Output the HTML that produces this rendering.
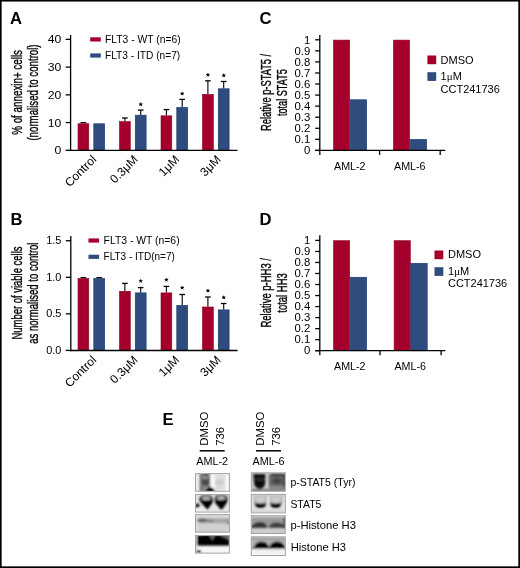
<!DOCTYPE html><html><head><meta charset="utf-8"><style>html,body{margin:0;padding:0;background:#fff;overflow:hidden;width:520px;height:568px}svg{display:block;will-change:transform}text{font-family:"Liberation Sans",sans-serif;fill:#000}</style></head><body>
<svg width="520" height="568" viewBox="0 0 520 568">
<rect x="0" y="0" width="520" height="568" fill="#fff"/>
<text x="10.00" y="24.30" font-size="16.6" font-weight="bold">A</text>
<line x1="83.40" y1="123.40" x2="83.40" y2="122.60" stroke="#000" stroke-width="1.1"/>
<line x1="80.60" y1="122.60" x2="86.20" y2="122.60" stroke="#000" stroke-width="1.3"/>
<rect x="78.00" y="123.70" width="10.80" height="26.60" fill="#a5002b" stroke="#8e0022" stroke-width="0.6"/>
<rect x="93.80" y="123.80" width="10.80" height="26.50" fill="#2f4c7f" stroke="#1c3a6e" stroke-width="0.7"/>
<line x1="124.90" y1="121.30" x2="124.90" y2="118.00" stroke="#000" stroke-width="1.1"/>
<line x1="122.10" y1="118.00" x2="127.70" y2="118.00" stroke="#000" stroke-width="1.3"/>
<rect x="119.50" y="121.60" width="10.80" height="28.70" fill="#a5002b" stroke="#8e0022" stroke-width="0.6"/>
<line x1="140.70" y1="114.90" x2="140.70" y2="110.10" stroke="#000" stroke-width="1.1"/>
<line x1="137.90" y1="110.10" x2="143.50" y2="110.10" stroke="#000" stroke-width="1.3"/>
<rect x="135.30" y="115.20" width="10.80" height="35.10" fill="#2f4c7f" stroke="#1c3a6e" stroke-width="0.7"/>
<line x1="166.40" y1="115.50" x2="166.40" y2="109.60" stroke="#000" stroke-width="1.1"/>
<line x1="163.60" y1="109.60" x2="169.20" y2="109.60" stroke="#000" stroke-width="1.3"/>
<rect x="161.00" y="115.80" width="10.80" height="34.50" fill="#a5002b" stroke="#8e0022" stroke-width="0.6"/>
<line x1="182.20" y1="107.20" x2="182.20" y2="99.40" stroke="#000" stroke-width="1.1"/>
<line x1="179.40" y1="99.40" x2="185.00" y2="99.40" stroke="#000" stroke-width="1.3"/>
<rect x="176.80" y="107.50" width="10.80" height="42.80" fill="#2f4c7f" stroke="#1c3a6e" stroke-width="0.7"/>
<line x1="207.90" y1="94.00" x2="207.90" y2="80.80" stroke="#000" stroke-width="1.1"/>
<line x1="205.10" y1="80.80" x2="210.70" y2="80.80" stroke="#000" stroke-width="1.3"/>
<rect x="202.50" y="94.30" width="10.80" height="56.00" fill="#a5002b" stroke="#8e0022" stroke-width="0.6"/>
<line x1="223.70" y1="88.50" x2="223.70" y2="81.50" stroke="#000" stroke-width="1.1"/>
<line x1="220.90" y1="81.50" x2="226.50" y2="81.50" stroke="#000" stroke-width="1.3"/>
<rect x="218.30" y="88.80" width="10.80" height="61.50" fill="#2f4c7f" stroke="#1c3a6e" stroke-width="0.7"/>
<line x1="70.60" y1="35.00" x2="70.60" y2="150.95" stroke="#000" stroke-width="1.3"/>
<line x1="69.95" y1="150.30" x2="237.50" y2="150.30" stroke="#000" stroke-width="1.3"/>
<line x1="65.60" y1="150.30" x2="70.60" y2="150.30" stroke="#000" stroke-width="1.3"/>
<text x="0" y="0" font-size="10.6" text-anchor="end" transform="translate(61.20,154.40) scale(1.15,1)">0</text>
<line x1="65.60" y1="122.57" x2="70.60" y2="122.57" stroke="#000" stroke-width="1.3"/>
<text x="0" y="0" font-size="10.6" text-anchor="end" transform="translate(61.20,126.67) scale(1.15,1)">10</text>
<line x1="65.60" y1="94.84" x2="70.60" y2="94.84" stroke="#000" stroke-width="1.3"/>
<text x="0" y="0" font-size="10.6" text-anchor="end" transform="translate(61.20,98.94) scale(1.15,1)">20</text>
<line x1="65.60" y1="67.11" x2="70.60" y2="67.11" stroke="#000" stroke-width="1.3"/>
<text x="0" y="0" font-size="10.6" text-anchor="end" transform="translate(61.20,71.21) scale(1.15,1)">30</text>
<line x1="65.60" y1="39.38" x2="70.60" y2="39.38" stroke="#000" stroke-width="1.3"/>
<text x="0" y="0" font-size="10.6" text-anchor="end" transform="translate(61.20,43.48) scale(1.15,1)">40</text>
<path d="M140.70,104.40L140.70,102.95M140.70,104.40L142.08,103.95M140.70,104.40L141.55,105.57M140.70,104.40L139.85,105.57M140.70,104.40L139.32,103.95" stroke="#000" stroke-width="1.0" stroke-linecap="round"/><circle cx="140.70" cy="104.40" r="0.9" fill="#000"/>
<path d="M182.20,93.70L182.20,92.25M182.20,93.70L183.58,93.25M182.20,93.70L183.05,94.87M182.20,93.70L181.35,94.87M182.20,93.70L180.82,93.25" stroke="#000" stroke-width="1.0" stroke-linecap="round"/><circle cx="182.20" cy="93.70" r="0.9" fill="#000"/>
<path d="M207.90,75.00L207.90,73.55M207.90,75.00L209.28,74.55M207.90,75.00L208.75,76.17M207.90,75.00L207.05,76.17M207.90,75.00L206.52,74.55" stroke="#000" stroke-width="1.0" stroke-linecap="round"/><circle cx="207.90" cy="75.00" r="0.9" fill="#000"/>
<path d="M223.70,75.50L223.70,74.05M223.70,75.50L225.08,75.05M223.70,75.50L224.55,76.67M223.70,75.50L222.85,76.67M223.70,75.50L222.32,75.05" stroke="#000" stroke-width="1.0" stroke-linecap="round"/><circle cx="223.70" cy="75.50" r="0.9" fill="#000"/>
<rect x="90.20" y="37.30" width="10.60" height="4.20" fill="#a5002b" />
<text x="105.00" y="42.70" font-size="10.2" textLength="75.60" lengthAdjust="spacingAndGlyphs">FLT3 - WT (n=6)</text>
<rect x="90.20" y="53.40" width="10.60" height="4.20" fill="#2f4c7f" />
<text x="105.00" y="59.20" font-size="10.2" textLength="75.20" lengthAdjust="spacingAndGlyphs">FLT3 - ITD (n=7)</text>
<text x="0" y="0" font-size="12.0" text-anchor="end" transform="translate(97.10,160.20) rotate(-45)">Control</text>
<text x="0" y="0" font-size="12.0" text-anchor="end" transform="translate(138.60,160.20) rotate(-45)">0.3μM</text>
<text x="0" y="0" font-size="12.0" text-anchor="end" transform="translate(180.10,160.20) rotate(-45)">1μM</text>
<text x="0" y="0" font-size="12.0" text-anchor="end" transform="translate(221.60,160.20) rotate(-45)">3μM</text>
<text x="0" y="0" font-size="13.8" textLength="84.80" lengthAdjust="spacingAndGlyphs" stroke="#000" stroke-width="0.35" transform="translate(22.00,134.80) rotate(-90)">% of annexin+ cells</text>
<text x="0" y="0" font-size="13.8" textLength="96.20" lengthAdjust="spacingAndGlyphs" stroke="#000" stroke-width="0.35" transform="translate(37.50,140.60) rotate(-90)">(normalised to control)</text>
<text x="10.60" y="225.00" font-size="16.6" font-weight="bold">B</text>
<line x1="83.40" y1="278.20" x2="83.40" y2="277.60" stroke="#000" stroke-width="1.1"/>
<line x1="80.60" y1="277.60" x2="86.20" y2="277.60" stroke="#000" stroke-width="1.3"/>
<rect x="78.00" y="278.50" width="10.80" height="72.00" fill="#a5002b" stroke="#8e0022" stroke-width="0.6"/>
<line x1="99.20" y1="278.20" x2="99.20" y2="277.60" stroke="#000" stroke-width="1.1"/>
<line x1="96.40" y1="277.60" x2="102.00" y2="277.60" stroke="#000" stroke-width="1.3"/>
<rect x="93.80" y="278.50" width="10.80" height="72.00" fill="#2f4c7f" stroke="#1c3a6e" stroke-width="0.7"/>
<line x1="124.90" y1="291.00" x2="124.90" y2="283.40" stroke="#000" stroke-width="1.1"/>
<line x1="122.10" y1="283.40" x2="127.70" y2="283.40" stroke="#000" stroke-width="1.3"/>
<rect x="119.50" y="291.30" width="10.80" height="59.20" fill="#a5002b" stroke="#8e0022" stroke-width="0.6"/>
<line x1="140.70" y1="292.60" x2="140.70" y2="287.60" stroke="#000" stroke-width="1.1"/>
<line x1="137.90" y1="287.60" x2="143.50" y2="287.60" stroke="#000" stroke-width="1.3"/>
<rect x="135.30" y="292.90" width="10.80" height="57.60" fill="#2f4c7f" stroke="#1c3a6e" stroke-width="0.7"/>
<line x1="166.40" y1="292.60" x2="166.40" y2="286.40" stroke="#000" stroke-width="1.1"/>
<line x1="163.60" y1="286.40" x2="169.20" y2="286.40" stroke="#000" stroke-width="1.3"/>
<rect x="161.00" y="292.90" width="10.80" height="57.60" fill="#a5002b" stroke="#8e0022" stroke-width="0.6"/>
<line x1="182.20" y1="305.10" x2="182.20" y2="294.50" stroke="#000" stroke-width="1.1"/>
<line x1="179.40" y1="294.50" x2="185.00" y2="294.50" stroke="#000" stroke-width="1.3"/>
<rect x="176.80" y="305.40" width="10.80" height="45.10" fill="#2f4c7f" stroke="#1c3a6e" stroke-width="0.7"/>
<line x1="207.90" y1="306.70" x2="207.90" y2="297.00" stroke="#000" stroke-width="1.1"/>
<line x1="205.10" y1="297.00" x2="210.70" y2="297.00" stroke="#000" stroke-width="1.3"/>
<rect x="202.50" y="307.00" width="10.80" height="43.50" fill="#a5002b" stroke="#8e0022" stroke-width="0.6"/>
<line x1="223.70" y1="309.60" x2="223.70" y2="303.50" stroke="#000" stroke-width="1.1"/>
<line x1="220.90" y1="303.50" x2="226.50" y2="303.50" stroke="#000" stroke-width="1.3"/>
<rect x="218.30" y="309.90" width="10.80" height="40.60" fill="#2f4c7f" stroke="#1c3a6e" stroke-width="0.7"/>
<line x1="70.80" y1="236.00" x2="70.80" y2="351.15" stroke="#000" stroke-width="1.3"/>
<line x1="70.15" y1="350.50" x2="237.50" y2="350.50" stroke="#000" stroke-width="1.3"/>
<line x1="65.80" y1="350.40" x2="70.80" y2="350.40" stroke="#000" stroke-width="1.3"/>
<text x="0" y="0" font-size="10.6" text-anchor="end" transform="translate(61.30,354.00) scale(1.03,1)">0.0</text>
<line x1="65.80" y1="313.85" x2="70.80" y2="313.85" stroke="#000" stroke-width="1.3"/>
<text x="0" y="0" font-size="10.6" text-anchor="end" transform="translate(61.30,317.45) scale(1.03,1)">0.5</text>
<line x1="65.80" y1="277.30" x2="70.80" y2="277.30" stroke="#000" stroke-width="1.3"/>
<text x="0" y="0" font-size="10.6" text-anchor="end" transform="translate(61.30,280.90) scale(1.03,1)">1.0</text>
<line x1="65.80" y1="240.75" x2="70.80" y2="240.75" stroke="#000" stroke-width="1.3"/>
<text x="0" y="0" font-size="10.6" text-anchor="end" transform="translate(61.30,244.35) scale(1.03,1)">1.5</text>
<path d="M140.70,281.10L140.70,279.65M140.70,281.10L142.08,280.65M140.70,281.10L141.55,282.27M140.70,281.10L139.85,282.27M140.70,281.10L139.32,280.65" stroke="#000" stroke-width="1.0" stroke-linecap="round"/><circle cx="140.70" cy="281.10" r="0.9" fill="#000"/>
<path d="M166.40,279.90L166.40,278.45M166.40,279.90L167.78,279.45M166.40,279.90L167.25,281.07M166.40,279.90L165.55,281.07M166.40,279.90L165.02,279.45" stroke="#000" stroke-width="1.0" stroke-linecap="round"/><circle cx="166.40" cy="279.90" r="0.9" fill="#000"/>
<path d="M182.20,287.80L182.20,286.35M182.20,287.80L183.58,287.35M182.20,287.80L183.05,288.97M182.20,287.80L181.35,288.97M182.20,287.80L180.82,287.35" stroke="#000" stroke-width="1.0" stroke-linecap="round"/><circle cx="182.20" cy="287.80" r="0.9" fill="#000"/>
<path d="M207.90,290.80L207.90,289.35M207.90,290.80L209.28,290.35M207.90,290.80L208.75,291.97M207.90,290.80L207.05,291.97M207.90,290.80L206.52,290.35" stroke="#000" stroke-width="1.0" stroke-linecap="round"/><circle cx="207.90" cy="290.80" r="0.9" fill="#000"/>
<path d="M223.70,297.50L223.70,296.05M223.70,297.50L225.08,297.05M223.70,297.50L224.55,298.67M223.70,297.50L222.85,298.67M223.70,297.50L222.32,297.05" stroke="#000" stroke-width="1.0" stroke-linecap="round"/><circle cx="223.70" cy="297.50" r="0.9" fill="#000"/>
<rect x="88.50" y="238.40" width="10.60" height="4.20" fill="#a5002b" />
<text x="103.60" y="243.50" font-size="10.2" textLength="76.00" lengthAdjust="spacingAndGlyphs">FLT3 - WT (n=6)</text>
<rect x="88.50" y="254.70" width="10.60" height="4.20" fill="#2f4c7f" />
<text x="103.60" y="259.50" font-size="10.2" textLength="71.20" lengthAdjust="spacingAndGlyphs">FLT3 - ITD(n=7)</text>
<text x="0" y="0" font-size="12.0" text-anchor="end" transform="translate(97.10,360.60) rotate(-45)">Control</text>
<text x="0" y="0" font-size="12.0" text-anchor="end" transform="translate(138.60,360.60) rotate(-45)">0.3μM</text>
<text x="0" y="0" font-size="12.0" text-anchor="end" transform="translate(180.10,360.60) rotate(-45)">1μM</text>
<text x="0" y="0" font-size="12.0" text-anchor="end" transform="translate(221.60,360.60) rotate(-45)">3μM</text>
<text x="0" y="0" font-size="13.8" textLength="93.00" lengthAdjust="spacingAndGlyphs" stroke="#000" stroke-width="0.35" transform="translate(22.20,339.50) rotate(-90)">Number of viable cells</text>
<text x="0" y="0" font-size="13.8" textLength="101.20" lengthAdjust="spacingAndGlyphs" stroke="#000" stroke-width="0.35" transform="translate(37.80,343.70) rotate(-90)">as normalised to control</text>
<text x="259.40" y="24.40" font-size="16.6" font-weight="bold">C</text>
<rect x="333.50" y="40.10" width="16.20" height="110.30" fill="#a5002b" stroke="#8e0022" stroke-width="0.6"/>
<rect x="350.30" y="99.80" width="16.30" height="50.60" fill="#2f4c7f" stroke="#1c3a6e" stroke-width="0.7"/>
<rect x="393.40" y="40.10" width="16.20" height="110.30" fill="#a5002b" stroke="#8e0022" stroke-width="0.6"/>
<rect x="410.20" y="139.50" width="16.30" height="10.90" fill="#2f4c7f" stroke="#1c3a6e" stroke-width="0.7"/>
<line x1="319.80" y1="35.10" x2="319.80" y2="154.90" stroke="#000" stroke-width="1.3"/>
<line x1="315.30" y1="150.40" x2="445.30" y2="150.40" stroke="#000" stroke-width="1.3"/>
<line x1="379.60" y1="150.40" x2="379.60" y2="154.90" stroke="#000" stroke-width="1.3"/>
<line x1="440.20" y1="150.40" x2="440.20" y2="154.90" stroke="#000" stroke-width="1.3"/>
<line x1="315.20" y1="150.40" x2="319.80" y2="150.40" stroke="#000" stroke-width="1.3"/>
<text x="0" y="0" font-size="10.6" text-anchor="end" transform="translate(310.20,154.10) scale(1.07,1)">0</text>
<line x1="315.20" y1="139.34" x2="319.80" y2="139.34" stroke="#000" stroke-width="1.3"/>
<text x="0" y="0" font-size="10.6" text-anchor="end" transform="translate(310.20,143.04) scale(1.07,1)">0.1</text>
<line x1="315.20" y1="128.28" x2="319.80" y2="128.28" stroke="#000" stroke-width="1.3"/>
<text x="0" y="0" font-size="10.6" text-anchor="end" transform="translate(310.20,131.98) scale(1.07,1)">0.2</text>
<line x1="315.20" y1="117.22" x2="319.80" y2="117.22" stroke="#000" stroke-width="1.3"/>
<text x="0" y="0" font-size="10.6" text-anchor="end" transform="translate(310.20,120.92) scale(1.07,1)">0.3</text>
<line x1="315.20" y1="106.16" x2="319.80" y2="106.16" stroke="#000" stroke-width="1.3"/>
<text x="0" y="0" font-size="10.6" text-anchor="end" transform="translate(310.20,109.86) scale(1.07,1)">0.4</text>
<line x1="315.20" y1="95.10" x2="319.80" y2="95.10" stroke="#000" stroke-width="1.3"/>
<text x="0" y="0" font-size="10.6" text-anchor="end" transform="translate(310.20,98.80) scale(1.07,1)">0.5</text>
<line x1="315.20" y1="84.04" x2="319.80" y2="84.04" stroke="#000" stroke-width="1.3"/>
<text x="0" y="0" font-size="10.6" text-anchor="end" transform="translate(310.20,87.74) scale(1.07,1)">0.6</text>
<line x1="315.20" y1="72.98" x2="319.80" y2="72.98" stroke="#000" stroke-width="1.3"/>
<text x="0" y="0" font-size="10.6" text-anchor="end" transform="translate(310.20,76.68) scale(1.07,1)">0.7</text>
<line x1="315.20" y1="61.92" x2="319.80" y2="61.92" stroke="#000" stroke-width="1.3"/>
<text x="0" y="0" font-size="10.6" text-anchor="end" transform="translate(310.20,65.62) scale(1.07,1)">0.8</text>
<line x1="315.20" y1="50.86" x2="319.80" y2="50.86" stroke="#000" stroke-width="1.3"/>
<text x="0" y="0" font-size="10.6" text-anchor="end" transform="translate(310.20,54.56) scale(1.07,1)">0.9</text>
<line x1="315.20" y1="39.80" x2="319.80" y2="39.80" stroke="#000" stroke-width="1.3"/>
<text x="0" y="0" font-size="10.6" text-anchor="end" transform="translate(310.20,43.50) scale(1.07,1)">1</text>
<text x="334.00" y="169.50" font-size="10.8" textLength="31.60" lengthAdjust="spacingAndGlyphs">AML-2</text>
<text x="394.00" y="169.50" font-size="10.8" textLength="31.60" lengthAdjust="spacingAndGlyphs">AML-6</text>
<rect x="427.40" y="55.50" width="8.80" height="8.70" fill="#a5002b" />
<rect x="427.40" y="72.20" width="8.80" height="8.70" fill="#2f4c7f" />
<text x="440.60" y="63.50" font-size="11.0" textLength="33.00" lengthAdjust="spacingAndGlyphs">DMSO</text>
<text x="440.60" y="80.10" font-size="11.0">1<tspan font-family="Liberation Serif">μ</tspan>M</text>
<text x="440.60" y="92.70" font-size="11.0" textLength="59.20" lengthAdjust="spacingAndGlyphs">CCT241736</text>
<text x="0" y="0" font-size="13.8" textLength="77.20" lengthAdjust="spacingAndGlyphs" stroke="#000" stroke-width="0.35" transform="translate(271.20,131.00) rotate(-90)">Relative p-STAT5 /</text>
<text x="0" y="0" font-size="13.8" textLength="46.90" lengthAdjust="spacingAndGlyphs" stroke="#000" stroke-width="0.35" transform="translate(286.90,116.10) rotate(-90)">total STAT5</text>
<text x="259.60" y="225.00" font-size="16.6" font-weight="bold">D</text>
<rect x="333.50" y="240.70" width="16.20" height="110.00" fill="#a5002b" stroke="#8e0022" stroke-width="0.6"/>
<rect x="350.30" y="277.30" width="16.30" height="73.40" fill="#2f4c7f" stroke="#1c3a6e" stroke-width="0.7"/>
<rect x="394.10" y="240.70" width="16.20" height="110.00" fill="#a5002b" stroke="#8e0022" stroke-width="0.6"/>
<rect x="410.90" y="263.30" width="16.30" height="87.40" fill="#2f4c7f" stroke="#1c3a6e" stroke-width="0.7"/>
<line x1="319.80" y1="235.20" x2="319.80" y2="355.20" stroke="#000" stroke-width="1.3"/>
<line x1="315.30" y1="350.70" x2="445.30" y2="350.70" stroke="#000" stroke-width="1.3"/>
<line x1="380.00" y1="350.70" x2="380.00" y2="355.20" stroke="#000" stroke-width="1.3"/>
<line x1="441.10" y1="350.70" x2="441.10" y2="355.20" stroke="#000" stroke-width="1.3"/>
<line x1="315.20" y1="350.70" x2="319.80" y2="350.70" stroke="#000" stroke-width="1.3"/>
<text x="0" y="0" font-size="10.6" text-anchor="end" transform="translate(310.20,354.40) scale(1.07,1)">0</text>
<line x1="315.20" y1="339.67" x2="319.80" y2="339.67" stroke="#000" stroke-width="1.3"/>
<text x="0" y="0" font-size="10.6" text-anchor="end" transform="translate(310.20,343.37) scale(1.07,1)">0.1</text>
<line x1="315.20" y1="328.64" x2="319.80" y2="328.64" stroke="#000" stroke-width="1.3"/>
<text x="0" y="0" font-size="10.6" text-anchor="end" transform="translate(310.20,332.34) scale(1.07,1)">0.2</text>
<line x1="315.20" y1="317.61" x2="319.80" y2="317.61" stroke="#000" stroke-width="1.3"/>
<text x="0" y="0" font-size="10.6" text-anchor="end" transform="translate(310.20,321.31) scale(1.07,1)">0.3</text>
<line x1="315.20" y1="306.58" x2="319.80" y2="306.58" stroke="#000" stroke-width="1.3"/>
<text x="0" y="0" font-size="10.6" text-anchor="end" transform="translate(310.20,310.28) scale(1.07,1)">0.4</text>
<line x1="315.20" y1="295.55" x2="319.80" y2="295.55" stroke="#000" stroke-width="1.3"/>
<text x="0" y="0" font-size="10.6" text-anchor="end" transform="translate(310.20,299.25) scale(1.07,1)">0.5</text>
<line x1="315.20" y1="284.52" x2="319.80" y2="284.52" stroke="#000" stroke-width="1.3"/>
<text x="0" y="0" font-size="10.6" text-anchor="end" transform="translate(310.20,288.22) scale(1.07,1)">0.6</text>
<line x1="315.20" y1="273.49" x2="319.80" y2="273.49" stroke="#000" stroke-width="1.3"/>
<text x="0" y="0" font-size="10.6" text-anchor="end" transform="translate(310.20,277.19) scale(1.07,1)">0.7</text>
<line x1="315.20" y1="262.46" x2="319.80" y2="262.46" stroke="#000" stroke-width="1.3"/>
<text x="0" y="0" font-size="10.6" text-anchor="end" transform="translate(310.20,266.16) scale(1.07,1)">0.8</text>
<line x1="315.20" y1="251.43" x2="319.80" y2="251.43" stroke="#000" stroke-width="1.3"/>
<text x="0" y="0" font-size="10.6" text-anchor="end" transform="translate(310.20,255.13) scale(1.07,1)">0.9</text>
<line x1="315.20" y1="240.40" x2="319.80" y2="240.40" stroke="#000" stroke-width="1.3"/>
<text x="0" y="0" font-size="10.6" text-anchor="end" transform="translate(310.20,244.10) scale(1.07,1)">1</text>
<text x="334.00" y="369.70" font-size="10.8" textLength="31.60" lengthAdjust="spacingAndGlyphs">AML-2</text>
<text x="394.40" y="369.70" font-size="10.8" textLength="31.60" lengthAdjust="spacingAndGlyphs">AML-6</text>
<rect x="434.50" y="250.50" width="8.80" height="8.70" fill="#a5002b" />
<rect x="434.50" y="267.20" width="8.80" height="8.70" fill="#2f4c7f" />
<text x="448.00" y="258.20" font-size="11.0" textLength="33.00" lengthAdjust="spacingAndGlyphs">DMSO</text>
<text x="448.00" y="274.60" font-size="11.0">1<tspan font-family="Liberation Serif">μ</tspan>M</text>
<text x="448.00" y="286.90" font-size="11.0" textLength="59.20" lengthAdjust="spacingAndGlyphs">CCT241736</text>
<text x="0" y="0" font-size="13.8" textLength="69.60" lengthAdjust="spacingAndGlyphs" stroke="#000" stroke-width="0.35" transform="translate(271.20,327.60) rotate(-90)">Relative p-HH3 /</text>
<text x="0" y="0" font-size="13.8" textLength="39.50" lengthAdjust="spacingAndGlyphs" stroke="#000" stroke-width="0.35" transform="translate(286.90,312.70) rotate(-90)">total HH3</text>
<text x="162.40" y="425.20" font-size="16.6" font-weight="bold">E</text>
<text x="0" y="0" font-size="11.4" textLength="34.20" lengthAdjust="spacingAndGlyphs" transform="translate(208.10,445.80) rotate(-90)">DMSO</text>
<text x="0" y="0" font-size="11.4" textLength="18.80" lengthAdjust="spacingAndGlyphs" transform="translate(223.80,445.80) rotate(-90)">736</text>
<line x1="199.70" y1="450.80" x2="224.70" y2="450.80" stroke="#000" stroke-width="1.5"/>
<text x="196.30" y="465.10" font-size="10.8" textLength="31.80" lengthAdjust="spacingAndGlyphs">AML-2</text>
<text x="0" y="0" font-size="11.4" textLength="34.20" lengthAdjust="spacingAndGlyphs" transform="translate(264.40,445.80) rotate(-90)">DMSO</text>
<text x="0" y="0" font-size="11.4" textLength="18.80" lengthAdjust="spacingAndGlyphs" transform="translate(280.10,445.80) rotate(-90)">736</text>
<line x1="256.00" y1="450.80" x2="281.00" y2="450.80" stroke="#000" stroke-width="1.5"/>
<text x="252.60" y="465.10" font-size="10.8" textLength="31.80" lengthAdjust="spacingAndGlyphs">AML-6</text>
<defs><filter id="bl" x="-20%" y="-20%" width="140%" height="140%"><feGaussianBlur stdDeviation="0.9"/></filter><filter id="bl2" x="-20%" y="-20%" width="140%" height="140%"><feGaussianBlur stdDeviation="0.8"/></filter><filter id="bl3" x="-20%" y="-20%" width="140%" height="140%"><feGaussianBlur stdDeviation="0.8"/></filter></defs>
<clipPath id="c1"><rect x="195.80" y="473.90" width="33.30" height="17.10"/></clipPath><g clip-path="url(#c1)">
<rect x="195.0" y="473.1" width="34.900000000000006" height="18.69999999999999" fill="#f0f0f0"/>
<g filter="url(#bl3)"><rect x="199.5" y="473.1" width="10.8" height="18.69999999999999" fill="#858585"/>
<rect x="200" y="473.1" width="3.2" height="18.69999999999999" fill="#777"/>
<rect x="204.5" y="473.1" width="2" height="18.69999999999999" fill="#9a9a9a"/>
<path d="M201.5,478.5 Q205,480.5 209.5,478 L209,484.5 Q205.5,487.5 202,484.5 Z" fill="#4a4a4a"/>
<ellipse cx="206" cy="474.3" rx="2.2" ry="1.4" fill="#000"/>
<rect x="214.8" y="474.5" width="10.6" height="16" fill="#dcdcdc"/>
<ellipse cx="219.5" cy="482.5" rx="4" ry="3" fill="#cbcbcb"/>
<rect x="225.6" y="474" width="3.5" height="17" fill="#fbfbfb"/>
<rect x="210.8" y="474" width="3.6" height="13" fill="#fafafa"/>
<path d="M203.8,492.3 Q206.5,488.6 209.8,486.6 Q213,488 216,492.3 Z" fill="#000"/></g>
</g>
<rect x="195.50" y="473.60" width="33.90" height="17.70" fill="none" stroke="#a2a2a2" stroke-width="1"/>
<clipPath id="c2"><rect x="195.80" y="494.80" width="33.30" height="17.00"/></clipPath><g clip-path="url(#c2)">
<rect x="195.0" y="494.0" width="34.900000000000006" height="18.600000000000023" fill="#e6e6e6"/>
<g filter="url(#bl3)"><ellipse cx="206.2" cy="498.2" rx="6.4" ry="3.4" fill="#2a2a2a"/>
<ellipse cx="206.2" cy="498.4" rx="4.0" ry="2.1" fill="#b4b4b4"/>
<ellipse cx="221.2" cy="498.0" rx="6.4" ry="3.4" fill="#2a2a2a"/>
<ellipse cx="221.2" cy="498.2" rx="4.0" ry="2.1" fill="#b4b4b4"/>
<path d="M199.0,497.8 Q203,500.8 206.5,500.6 Q210,500.2 213.0,499.3 L212.6,502.8 L208.0,509.0 L206.6,509.0 L200.0,501.2 Z" fill="#000"/>
<path d="M214.7,499.3 Q220,500.8 227.6,499.0 L227.0,502.4 L222.4,509.3 L220.6,509.3 L215.2,503 Z" fill="#000"/>
<circle cx="197.4" cy="505.6" r="2.1" fill="#000"/>
<rect x="196" y="509.5" width="8" height="2.5" fill="#f4f4f4"/></g>
</g>
<rect x="195.50" y="494.50" width="33.90" height="17.60" fill="none" stroke="#a2a2a2" stroke-width="1"/>
<clipPath id="c3"><rect x="195.80" y="514.90" width="33.30" height="17.00"/></clipPath><g clip-path="url(#c3)">
<rect x="195.0" y="514.1" width="34.900000000000006" height="18.600000000000023" fill="#d0d0d0"/>
<g filter="url(#bl)"><rect x="195" y="514" width="35" height="3.6" fill="#dadada"/>
<rect x="195.8" y="514" width="1.4" height="19" fill="#ececec"/>
<path d="M197,518.5 L229,518.3 L229,523.5 L197,522.3 Z" fill="#a5a5a5"/>
<ellipse cx="202.5" cy="520.3" rx="5.5" ry="2.0" fill="#666"/>
<ellipse cx="210" cy="521" rx="4.5" ry="1.6" fill="#888"/>
<rect x="227.8" y="520.5" width="1.3" height="3.5" fill="#444"/></g>
</g>
<rect x="195.50" y="514.60" width="33.90" height="17.60" fill="none" stroke="#a2a2a2" stroke-width="1"/>
<clipPath id="c4"><rect x="195.80" y="535.80" width="33.30" height="17.00"/></clipPath><g clip-path="url(#c4)">
<rect x="195.0" y="535.0" width="34.900000000000006" height="18.600000000000023" fill="#f6f6f6"/>
<g filter="url(#bl3)"><rect x="196.5" y="535" width="33" height="10.6" fill="#000"/>
<path d="M209.5,535.5 L212.3,540.5 L215,535.5 Z" fill="#6a6a6a"/>
<path d="M219,535.5 Q225,537.5 229.5,540 L229.5,535.5 Z" fill="#707070"/>
<path d="M197,535.5 Q201,537 205,535.5 Z" fill="#444"/>
<rect x="195.5" y="535" width="1.6" height="18" fill="#c4c4c4"/>
<ellipse cx="198.6" cy="551.8" rx="2.2" ry="1.5" fill="#000"/></g>
</g>
<rect x="195.50" y="535.50" width="33.90" height="17.60" fill="none" stroke="#a2a2a2" stroke-width="1"/>
<clipPath id="c5"><rect x="251.60" y="473.10" width="33.40" height="17.90"/></clipPath><g clip-path="url(#c5)">
<rect x="250.8" y="472.3" width="35.0" height="19.5" fill="#cfcfcf"/>
<g filter="url(#bl)"><path d="M253.3,474 L265.3,474 L265.1,484 Q264,488.8 260,488.8 Q255.5,488.8 254.2,484 Z" fill="#0a0a0a"/>
<ellipse cx="259.5" cy="479.3" rx="4.5" ry="1.5" fill="#333"/>
<rect x="268.8" y="474" width="16.5" height="14.5" fill="#666"/>
<rect x="271.5" y="473.8" width="12" height="1.8" fill="#111"/>
<rect x="283.6" y="474" width="1.8" height="15" fill="#1a1a1a"/>
<ellipse cx="277" cy="481" rx="4.5" ry="3" fill="#444"/>
<rect x="269" y="486" width="15" height="3.2" fill="#8a8a8a"/>
<rect x="251.5" y="489.6" width="34" height="1.3" fill="#333"/></g>
</g>
<rect x="251.30" y="472.80" width="34.00" height="18.50" fill="none" stroke="#a2a2a2" stroke-width="1"/>
<clipPath id="c6"><rect x="251.60" y="494.70" width="33.40" height="17.90"/></clipPath><g clip-path="url(#c6)">
<rect x="250.8" y="493.9" width="35.0" height="19.5" fill="#e4e4e4"/>
<g filter="url(#bl3)"><rect x="252" y="495.2" width="33" height="1.2" fill="#b5b5b5"/>
<rect x="254" y="496.4" width="12.3" height="8.5" rx="2" fill="#a0a0a0"/>
<rect x="255.2" y="496.8" width="9.9" height="7.5" rx="2" fill="#cccccc"/>
<rect x="270" y="496.4" width="12.3" height="8.5" rx="2" fill="#a0a0a0"/>
<rect x="271.2" y="496.8" width="9.9" height="7.5" rx="2" fill="#cccccc"/>
<path d="M255.0,502.6 Q260.5,504.4 266.0,502.6 L265.6,506.2 Q260.5,509.8 255.4,506.2 Z" fill="#000"/>
<path d="M270.3,502.6 Q275.7,504.4 281.2,502.6 L280.8,506.2 Q275.7,509.8 270.7,506.2 Z" fill="#000"/>
<rect x="252" y="510.8" width="33" height="1.3" fill="#c4c4c4"/></g>
</g>
<rect x="251.30" y="494.40" width="34.00" height="18.50" fill="none" stroke="#a2a2a2" stroke-width="1"/>
<clipPath id="c7"><rect x="251.60" y="516.00" width="33.40" height="17.20"/></clipPath><g clip-path="url(#c7)">
<rect x="250.8" y="515.2" width="35.0" height="18.799999999999955" fill="#cdcdcd"/>
<g filter="url(#bl)"><rect x="251" y="515" width="35" height="2.3" fill="#d4d4d4"/>
<rect x="251" y="517.3" width="35" height="10.7" fill="#9a9a9a"/>
<path d="M252,527.8 Q253,522.0 260,522.0 Q266.5,522.0 267.5,527.8 Z" fill="#333"/>
<path d="M268.8,527.8 Q269.5,522.4 276.5,522.4 Q283.5,522.4 285,527.8 Z" fill="#3c3c3c"/>
<rect x="251.4" y="525" width="2" height="3" fill="#222"/>
<rect x="283.8" y="517" width="1.8" height="11" fill="#111"/></g>
</g>
<rect x="251.30" y="515.70" width="34.00" height="17.80" fill="none" stroke="#a2a2a2" stroke-width="1"/>
<clipPath id="c8"><rect x="251.60" y="537.10" width="33.40" height="18.10"/></clipPath><g clip-path="url(#c8)">
<rect x="250.8" y="536.3" width="35.0" height="19.700000000000045" fill="#f7f7f7"/>
<g filter="url(#bl3)"><rect x="251" y="537" width="35" height="11.5" fill="#b2b2b2"/>
<rect x="251" y="537" width="35" height="2.5" fill="#9a9a9a"/>
<path d="M254.0,548.8 Q254.8,541.6 261.5,541.6 Q268.2,541.6 269.2,548.8 Z" fill="#000"/>
<path d="M269.3,548.8 Q270.0,541.6 277,541.6 Q284,541.6 285.2,548.8 Z" fill="#000"/>
<rect x="251" y="547.6" width="35" height="1.3" fill="#000"/>
<rect x="251" y="548.8" width="35" height="8" fill="#f7f7f7"/>
<rect x="256" y="551.3" width="27" height="0.6" fill="#dadada"/></g>
</g>
<rect x="251.30" y="536.80" width="34.00" height="18.70" fill="none" stroke="#a2a2a2" stroke-width="1"/>
<text x="290.40" y="486.00" font-size="10.4" textLength="65.00" lengthAdjust="spacingAndGlyphs">p-STAT5 (Tyr)</text>
<text x="290.40" y="507.80" font-size="10.4" textLength="31.00" lengthAdjust="spacingAndGlyphs">STAT5</text>
<text x="290.40" y="529.30" font-size="10.4" textLength="65.60" lengthAdjust="spacingAndGlyphs">p-Histone H3</text>
<text x="290.70" y="550.50" font-size="10.4" textLength="55.40" lengthAdjust="spacingAndGlyphs">Histone H3</text>
<rect x="0" y="0" width="520" height="1.55" fill="#000"/><rect x="0" y="0" width="1.65" height="568" fill="#000"/><rect x="0" y="566.35" width="520" height="1.65" fill="#000"/><rect x="518.3" y="0" width="1.7" height="568" fill="#000"/>
</svg></body></html>
